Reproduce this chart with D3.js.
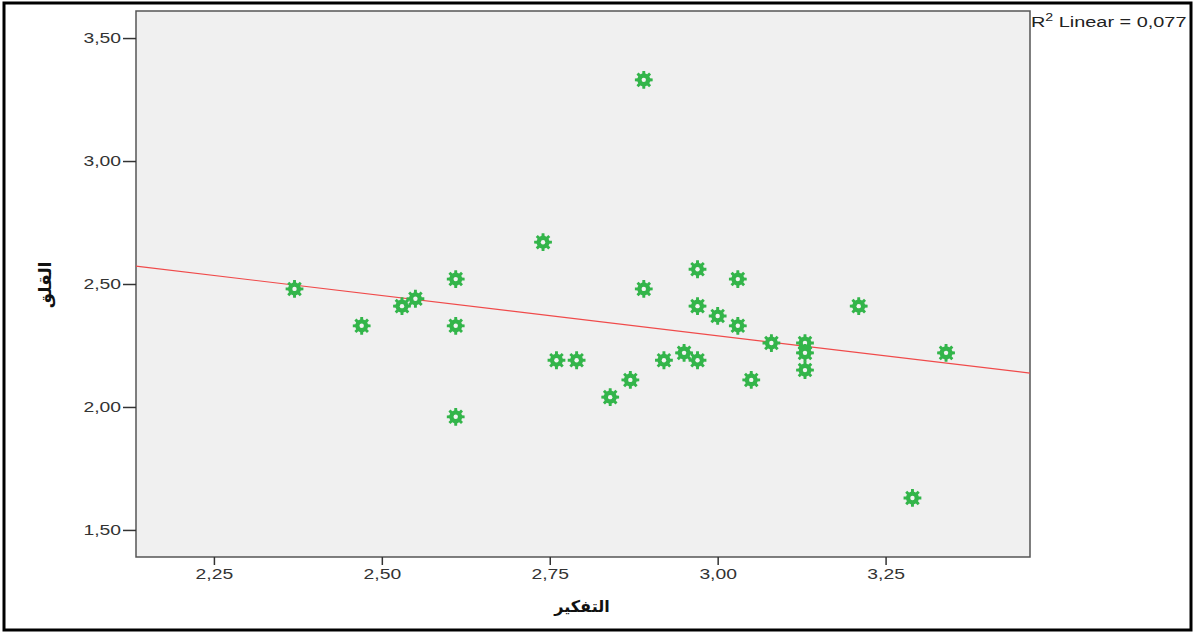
<!DOCTYPE html>
<html>
<head>
<meta charset="utf-8">
<script src="https://cdn.jsdelivr.net/npm/d3@7"></script>
<style>
  body { margin: 0; background: #fff; }
  svg { display: block; }
</style>
</head>
<body>
<script>
const width = 1195;
const height = 634;

// التفكير (x) / القلق (y)
const tafkir = [
  2.37, 2.47, 2.53, 2.55, 2.61, 2.61, 2.61, 2.74, 2.76, 2.79,
  2.89, 2.89, 2.97, 3.03, 2.97, 3.00, 3.03, 3.08, 3.13, 3.13,
  3.13, 2.95, 2.92, 2.97, 2.87, 3.05, 2.84, 3.21, 3.34, 3.29
];
const qalaq = [
  2.48, 2.33, 2.41, 2.44, 2.52, 2.33, 1.96, 2.67, 2.19, 2.19,
  3.33, 2.48, 2.56, 2.52, 2.41, 2.37, 2.33, 2.26, 2.26, 2.22,
  2.15, 2.22, 2.19, 2.19, 2.11, 2.11, 2.04, 2.41, 2.22, 1.63
];
const xTicks = [2.25, 2.5, 2.75, 3.0, 3.25];
const yTicks = [1.5, 2.0, 2.5, 3.0, 3.5];
const xLabel = "التفكير";
const yLabel = "القلق";
const r2Text = "0,077";
// fit line as drawn in the picture (intercept, slope)
const fitIntercept = 3.270;
const fitSlope = -0.3268;

const points = tafkir.map((x, i) => ({ x: x, y: qalaq[i] }));

const svg = d3
  .select("body")
  .append("svg")
  .attr("width", width)
  .attr("height", height);

// outer frame
svg
  .append("rect")
  .attr("x", 4)
  .attr("y", 3)
  .attr("width", width - 8)
  .attr("height", height - 7)
  .attr("fill", "none")
  .attr("stroke", "#000")
  .attr("stroke-width", 3);

const plot = { left: 136, top: 11, right: 1030, bottom: 557 };

const x = d3.scaleLinear().domain([2.134, 3.465]).range([plot.left, plot.right]);
const y = d3.scaleLinear().domain([1.39, 3.61]).range([plot.bottom, plot.top]);

svg
  .append("rect")
  .attr("x", plot.left)
  .attr("y", plot.top)
  .attr("width", plot.right - plot.left)
  .attr("height", plot.bottom - plot.top)
  .attr("fill", "#f0f0f0")
  .attr("stroke", "#555")
  .attr("stroke-width", 1.5);

const comma = (d) => d3.format(".2f")(d).replace(".", ",");

// the original text is stretched sideways
const stretch = (sel, k) =>
  sel.each(function () {
    const w = this.getComputedTextLength();
    d3.select(this).attr("textLength", w * k).attr("lengthAdjust", "spacingAndGlyphs");
  });

const xAxis = svg
  .append("g")
  .attr("transform", `translate(0,${plot.bottom})`)
  .call(d3.axisBottom(x).tickValues(xTicks).tickFormat(comma).tickSize(8).tickPadding(4));

const yAxis = svg
  .append("g")
  .attr("transform", `translate(${plot.left},0)`)
  .call(d3.axisLeft(y).tickValues(yTicks).tickFormat(comma).tickSize(13).tickPadding(2));

[xAxis, yAxis].forEach((g) => {
  g.select(".domain").remove();
  g.selectAll("line").attr("stroke", "#333").attr("stroke-width", 1.5);
  g.selectAll("text")
    .attr("fill", "#333")
    .style("font-family", "'Liberation Sans', Arial, sans-serif")
    .style("font-size", "14px")
    .call(stretch, 1.38);
});

const [x0, x1] = x.domain();

svg
  .append("line")
  .attr("x1", x(x0))
  .attr("y1", y(fitIntercept + fitSlope * x0))
  .attr("x2", x(x1))
  .attr("y2", y(fitIntercept + fitSlope * x1))
  .attr("stroke", "#f04a4a")
  .attr("stroke-width", 1.2);

// gear shaped marker
const gearPts = [];
const teeth = 8;
for (let i = 0; i < teeth; i++) {
  const a = (i / teeth) * 2 * Math.PI;
  const step = (2 * Math.PI) / teeth;
  gearPts.push([a - step * 0.2, 9]);
  gearPts.push([a + step * 0.2, 9]);
  gearPts.push([a + step * 0.3, 6.5]);
  gearPts.push([a + step * 0.7, 6.5]);
}
const gear = d3.lineRadial().curve(d3.curveLinearClosed)(gearPts);

const marks = svg
  .selectAll("g.pt")
  .data(points)
  .enter()
  .append("g")
  .attr("class", "pt")
  .attr("transform", (d) => `translate(${x(d.x)},${y(d.y)})`);

marks.append("path").attr("d", gear).attr("fill", "#33b54a");
marks.append("circle").attr("r", 2.2).attr("fill", "#f4f4f4");

// axis titles
svg
  .append("text")
  .attr("x", 582)
  .attr("y", 612)
  .attr("text-anchor", "middle")
  .style("font-family", "'DejaVu Sans', sans-serif")
  .style("font-size", "16px")
  .style("font-weight", "bold")
  .attr("fill", "#111")
  .text(xLabel);

svg
  .append("text")
  .attr("transform", "translate(51,285) rotate(-90)")
  .attr("text-anchor", "middle")
  .style("font-family", "'DejaVu Sans', sans-serif")
  .style("font-size", "17px")
  .style("font-weight", "bold")
  .attr("fill", "#111")
  .text(yLabel);

// R2 label
const r2 = svg
  .append("text")
  .attr("x", 1031)
  .attr("y", 27)
  .style("font-family", "'Liberation Sans', Arial, sans-serif")
  .style("font-size", "14px")
  .attr("fill", "#222");
r2.append("tspan").text("R");
r2.append("tspan").attr("dy", -6).style("font-size", "10px").text("2");
r2.append("tspan").attr("dy", 6).text(" Linear = " + r2Text);
r2.call(stretch, 1.42);
</script>
</body>
</html>
